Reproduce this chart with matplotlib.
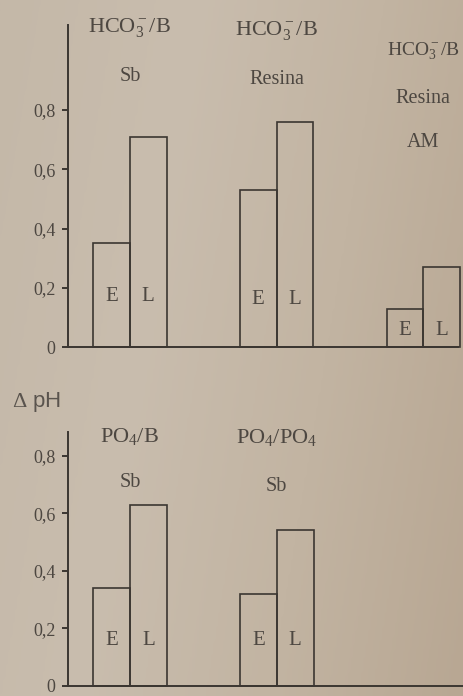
import numpy as np
import matplotlib.pyplot as plt
from matplotlib.colors import LinearSegmentedColormap

plt.rcParams['font.family'] = ['Liberation Serif', 'DejaVu Serif']
plt.rcParams['mathtext.fontset'] = 'custom'
plt.rcParams['mathtext.rm'] = 'Liberation Serif'
plt.rcParams['mathtext.it'] = 'Liberation Serif:italic'

# bicarbonate buffer groups (upper panel)
top_titles = [r'HCO$_3^-$/B', r'HCO$_3^-$/B', r'HCO$_3^-$/B']
top_subs = ['Sb', 'Resina', 'Resina\n\nAM']
top_E = [0.35, 0.53, 0.13]
top_L = [0.71, 0.76, 0.27]

# phosphate buffer groups (lower panel)
bot_titles = [r'PO$_4$/B', r'PO$_4$/PO$_4$']
bot_subs = ['Sb', 'Sb']
bot_E = [0.34, 0.32]
bot_L = [0.63, 0.54]

yticks = [0, 0.2, 0.4, 0.6, 0.8]
ytick_labels = ['0', '0,2', '0,4', '0,6', '0,8']

ink = '#3b3631'
txt = '#4d4741'

fig = plt.figure(figsize=(4.63, 6.96), dpi=100)

# paper background, a little darker towards the right edge
bg = fig.add_axes([0, 0, 1, 1], zorder=-10)
paper = LinearSegmentedColormap.from_list('paper', ['#c4b8a8', '#c9bdae', '#c2b4a2', '#b8a793'])
gx, gy = np.meshgrid(np.linspace(0, 1, 200), np.linspace(0, 1, 200))
bg.imshow(0.8 * gx + 0.2 * gy, cmap=paper, aspect='auto', extent=[0, 1, 0, 1])
bg.axis('off')

ax1 = fig.add_axes([0.147, 0.5014, 0.842, 0.4626])
ax2 = fig.add_axes([0.147, 0.0145, 0.853, 0.3648])


def draw_panel(ax, titles, subs, e_vals, l_vals, ymax, xmax, title_y, sub_y, letter_y,
               title_size):
    centers = 1.68 + 3.99 * np.arange(len(titles))
    ax.bar(centers - 0.5, e_vals, width=1.0, facecolor='none', edgecolor=ink,
           linewidth=1.2, clip_on=False)
    ax.bar(centers + 0.5, l_vals, width=1.0, facecolor='none', edgecolor=ink,
           linewidth=1.2, clip_on=False)
    for i, c in enumerate(centers):
        ax.text(c, title_y[i], titles[i], ha='center', va='center', fontsize=title_size[i],
                color=txt)
        ax.text(c, sub_y[i], subs[i], ha='center', va='top', fontsize=14.5, color=txt,
                linespacing=1.2)
        ax.text(c - 0.5, letter_y[i], 'E', ha='center', va='center', fontsize=15, color=txt)
        ax.text(c + 0.5, letter_y[i], 'L', ha='center', va='center', fontsize=15, color=txt)
    ax.set_xlim(0, xmax)
    ax.set_ylim(0, ymax)
    ax.set_facecolor('none')
    for s in ['top', 'right']:
        ax.spines[s].set_visible(False)
    for s in ['left', 'bottom']:
        ax.spines[s].set_color(ink)
        ax.spines[s].set_linewidth(1.4)
    ax.set_xticks([])
    ax.set_yticks(yticks)
    ax.set_yticklabels(ytick_labels)
    ax.tick_params(axis='y', direction='out', length=4, width=1.4, color=ink,
                   labelsize=13, labelcolor=txt, pad=5)


draw_panel(ax1, top_titles, top_subs, top_E, top_L, 1.087, 10.6,
           [1.08, 1.067, 1.0], [0.945, 0.935, 0.87], [0.17, 0.16, 0.055],
           [16, 16, 14])
draw_panel(ax2, bot_titles, bot_subs, bot_E, bot_L, 0.882, 10.73,
           [0.865, 0.862], [0.74, 0.725], [0.157, 0.157], [16, 16])

fig.text(37 / 463, 1 - 402 / 696, r'$\Delta$ pH', ha='center', va='center',
         fontsize=16, color='#5a544e', family=['Liberation Sans', 'DejaVu Sans'])

fig.savefig('out.png', dpi=100)
